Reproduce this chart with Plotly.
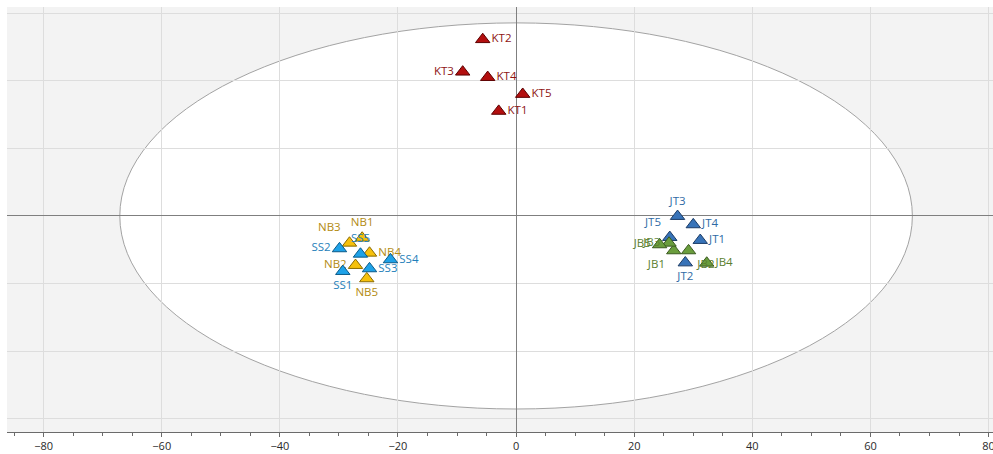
import plotly.graph_objects as go

# Score coordinates (t[1] on x, t[2] on y) for each sample group
kt_names = ["KT1", "KT2", "KT3", "KT4", "KT5"]
kt_x = [-2.94, -5.65, -9.04, -4.81, 1.12]
kt_y = [15.5, 26.1, 21.3, 20.5, 18.0]

nb_names = ["NB1", "NB2", "NB3", "NB4", "NB5"]
nb_x = [-26.06, -27.19, -28.21, -24.82, -25.28]
nb_y = [-3.26, -7.3, -4.0, -5.48, -9.27]

ss_names = ["SS1", "SS2", "SS3", "SS4", "SS5"]
ss_x = [-29.34, -29.9, -24.82, -21.27, -26.35]
ss_y = [-8.19, -4.83, -7.79, -6.46, -5.63]

jt_names = ["JT1", "JT2", "JT3", "JT4", "JT5"]
jt_x = [31.18, 28.65, 27.34, 30.0, 26.02]
jt_y = [-3.6, -6.92, -0.05, -1.28, -3.16]

jb_names = ["JB1", "JB2", "JB3", "JB4", "JB5"]
jb_x = [26.7, 29.2, 25.9, 32.28, 24.3]
jb_y = [-5.13, -5.13, -4.0, -6.96, -4.24]

# Hotelling T2 (95%) ellipse semi-axes
ellipse_rx = 67.1
ellipse_ry = 28.55

x_ticks = [-80, -60, -40, -20, 0, 20, 40, 60, 80]

groups = [
    (kt_names, kt_x, kt_y, "#b30f0f", "#5c0000", "#8e1414",
     ["middle right", "middle right", "middle left", "middle right", "middle right"]),
    (nb_names, nb_x, nb_y, "#f6c10c", "#8a6a00", "#b38b12",
     ["top center", "middle left", "top left", "middle right", "bottom center"]),
    (ss_names, ss_x, ss_y, "#1ea2e8", "#0b5a88", "#1f7fba",
     ["bottom center", "middle left", "middle right", "middle right", "top center"]),
    (jt_names, jt_x, jt_y, "#3873b8", "#1c3c66", "#2f6aa5",
     ["middle right", "bottom center", "top center", "middle right", "top left"]),
    (jb_names, jb_x, jb_y, "#6a9d3d", "#3a5a1e", "#5b7f2f",
     ["bottom left", "bottom right", "middle left", "middle right", "middle left"]),
]

fig = go.Figure()
for names, xs, ys, fill, edge, tcol, pos in groups:
    fig.add_trace(go.Scatter(
        x=xs, y=ys, text=names, mode="markers+text",
        textposition=pos,
        textfont=dict(family="Open Sans", size=11.5, color=tcol),
        marker=dict(symbol="triangle-up", size=12.5, color=fill,
                    line=dict(color=edge, width=1)),
        hoverinfo="text", showlegend=False,
    ))

fig.add_shape(type="circle", xref="x", yref="y",
              x0=-ellipse_rx, x1=ellipse_rx, y0=-ellipse_ry, y1=ellipse_ry,
              fillcolor="white", line=dict(color="#a3a3a3", width=1),
              layer="below")

fig.update_layout(
    width=993, height=454,
    margin=dict(l=7, r=0, t=7, b=22),
    paper_bgcolor="white", plot_bgcolor="#f3f3f3",
    showlegend=False,
    font=dict(family="Open Sans", color="#333333"),
)
fig.update_xaxes(
    range=[-86.2, 80.75], tickvals=x_ticks, automargin=False,
    ticklabeloverflow="allow",
    showgrid=True, gridcolor="#dddddd", gridwidth=1,
    zeroline=True, zerolinecolor="#7f7f7f", zerolinewidth=1,
    showline=True, linecolor="#6b6b6b", linewidth=1,
    ticks="outside", ticklen=4, tickcolor="#6b6b6b",
    tickfont=dict(family="Open Sans", size=11, color="#2a2a2a"),
    minor=dict(dtick=5, tick0=0, ticks="outside", ticklen=3,
               tickcolor="#6b6b6b", showgrid=False),
)
fig.update_yaxes(
    range=[-31.95, 30.9], dtick=10, tick0=0, automargin=False,
    showgrid=True, gridcolor="#dddddd", gridwidth=1,
    zeroline=True, zerolinecolor="#7f7f7f", zerolinewidth=1,
    showticklabels=False, showline=False, ticks="",
)

fig.write_html("out.html")
